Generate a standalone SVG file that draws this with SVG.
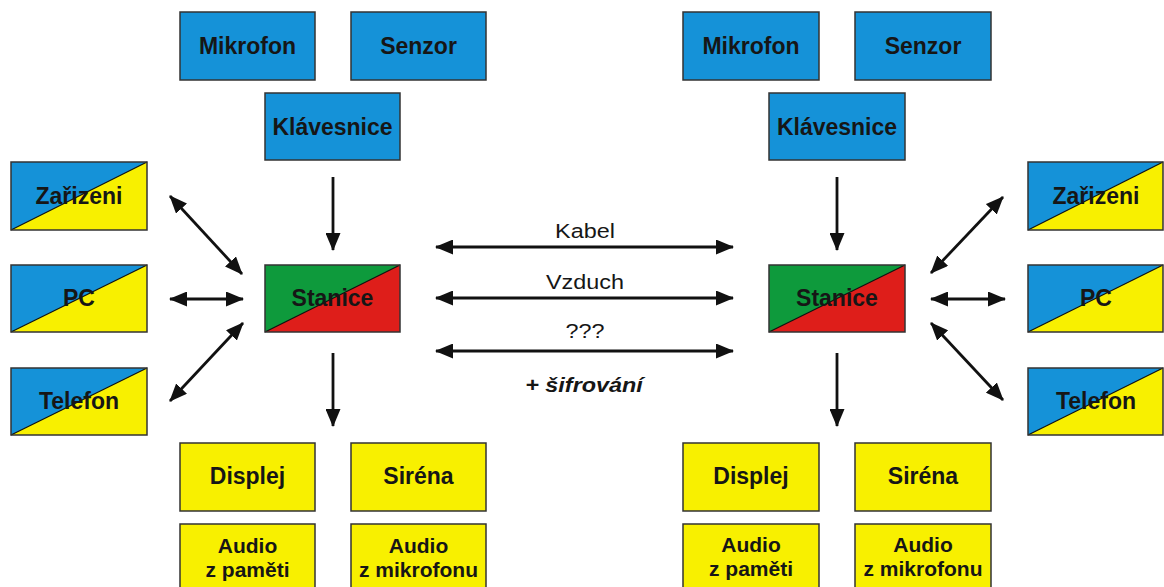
<svg xmlns="http://www.w3.org/2000/svg" width="1164" height="587" viewBox="0 0 1164 587">
<style>
.box{stroke:#333;stroke-width:1.5}
.blue{fill:#1592d8}
.yellow{fill:#f8f000}
.green{fill:#0e9a3c}
.red{fill:#de1e1a}
.diag{stroke:#111;stroke-width:1.2;fill:none}
.lbl{font-family:"Liberation Sans",Arial,sans-serif;font-weight:bold;font-size:23px;fill:#161616;text-anchor:middle}
.sm{font-size:21px}
.reg{font-family:"Liberation Sans",Arial,sans-serif;font-size:19.5px;fill:#161616;text-anchor:middle}
.bi{font-family:"Liberation Sans",Arial,sans-serif;font-size:19.5px;font-weight:bold;font-style:italic;fill:#161616;text-anchor:middle}
.arr{stroke:#111;stroke-width:2.8;fill:none}
.one{marker-end:url(#ah)}
.two{marker-start:url(#ah);marker-end:url(#ah)}
</style>
<defs>
<marker id="ah" markerUnits="userSpaceOnUse" markerWidth="18" markerHeight="15" refX="17" refY="7.5" orient="auto-start-reverse" viewBox="0 0 18 15">
<path d="M0,0 L18,7.5 L0,15 z" fill="#111"/>
</marker>
</defs>

<g id="connectors">
<line class="arr one" x1="333" y1="177" x2="333" y2="250"/>
<line class="arr one" x1="333" y1="353" x2="333" y2="426"/>
<line class="arr two" x1="170" y1="196" x2="242" y2="274"/>
<line class="arr two" x1="170" y1="299" x2="243" y2="299"/>
<line class="arr two" x1="170" y1="401" x2="243" y2="323"/>
<line class="arr two" x1="436" y1="247" x2="733" y2="247"/>
<line class="arr two" x1="436" y1="298" x2="733" y2="298"/>
<line class="arr two" x1="436" y1="351" x2="733" y2="351"/>
<line class="arr one" x1="837" y1="177" x2="837" y2="250"/>
<line class="arr one" x1="837" y1="353" x2="837" y2="426"/>
<line class="arr two" x1="1003" y1="197" x2="931" y2="273"/>
<line class="arr two" x1="931" y1="299" x2="1005" y2="299"/>
<line class="arr two" x1="931" y1="323" x2="1003" y2="400"/>
</g>

<g id="link-labels">
<text class="reg" transform="translate(585,238) scale(1.2,1)">Kabel</text>
<text class="reg" transform="translate(585,289) scale(1.2,1)">Vzduch</text>
<text class="reg" transform="translate(585,338) scale(1.2,1)">???</text>
<text class="bi" transform="translate(584,392) scale(1.2,1)">+ šifrování</text>
</g>

<!-- Left station -->
<g id="l-mikrofon"><rect class="box blue" x="180" y="12" width="135" height="68"/><text class="lbl" x="247.5" y="54">Mikrofon</text></g>
<g id="l-senzor"><rect class="box blue" x="351" y="12" width="135" height="68"/><text class="lbl" x="418.5" y="54">Senzor</text></g>
<g id="l-klavesnice"><rect class="box blue" x="265" y="93" width="135" height="67"/><text class="lbl" x="332.5" y="135">Klávesnice</text></g>
<g id="l-stanice"><rect class="green" x="265" y="265" width="135" height="67"/><path class="red" d="M265,332 L400,265 L400,332 z"/><line class="diag" x1="265" y1="332" x2="400" y2="265"/><rect class="box" fill="none" x="265" y="265" width="135" height="67"/><text class="lbl" x="332.5" y="306">Stanice</text></g>
<g id="l-zarizeni"><rect class="blue" x="11" y="162" width="136" height="68"/><path class="yellow" d="M11,230 L147,162 L147,230 z"/><line class="diag" x1="11" y1="230" x2="147" y2="162"/><rect class="box" fill="none" x="11" y="162" width="136" height="68"/><text class="lbl" x="79" y="204">Zařizeni</text></g>
<g id="l-pc"><rect class="blue" x="11" y="265" width="136" height="67"/><path class="yellow" d="M11,332 L147,265 L147,332 z"/><line class="diag" x1="11" y1="332" x2="147" y2="265"/><rect class="box" fill="none" x="11" y="265" width="136" height="67"/><text class="lbl" x="79" y="306">PC</text></g>
<g id="l-telefon"><rect class="blue" x="11" y="368" width="136" height="67"/><path class="yellow" d="M11,435 L147,368 L147,435 z"/><line class="diag" x1="11" y1="435" x2="147" y2="368"/><rect class="box" fill="none" x="11" y="368" width="136" height="67"/><text class="lbl" x="79" y="409">Telefon</text></g>
<g id="l-displej"><rect class="box yellow" x="180" y="443" width="135" height="68"/><text class="lbl" x="247.5" y="484">Displej</text></g>
<g id="l-sirena"><rect class="box yellow" x="351" y="443" width="135" height="68"/><text class="lbl" x="418.5" y="484">Siréna</text></g>
<g id="l-audio-pameti"><rect class="box yellow" x="180" y="524" width="135" height="70"/><text class="lbl sm" x="247.5" y="553">Audio</text><text class="lbl sm" x="247.5" y="577">z paměti</text></g>
<g id="l-audio-mikrofonu"><rect class="box yellow" x="351" y="524" width="135" height="70"/><text class="lbl sm" x="418.5" y="553">Audio</text><text class="lbl sm" x="418.5" y="577">z mikrofonu</text></g>

<!-- Right station -->
<g id="r-mikrofon"><rect class="box blue" x="683" y="12" width="136" height="68"/><text class="lbl" x="751" y="54">Mikrofon</text></g>
<g id="r-senzor"><rect class="box blue" x="855" y="12" width="136" height="68"/><text class="lbl" x="923" y="54">Senzor</text></g>
<g id="r-klavesnice"><rect class="box blue" x="769" y="93" width="136" height="67"/><text class="lbl" x="837" y="135">Klávesnice</text></g>
<g id="r-stanice"><rect class="green" x="769" y="265" width="136" height="67"/><path class="red" d="M769,332 L905,265 L905,332 z"/><line class="diag" x1="769" y1="332" x2="905" y2="265"/><rect class="box" fill="none" x="769" y="265" width="136" height="67"/><text class="lbl" x="837" y="306">Stanice</text></g>
<g id="r-zarizeni"><rect class="blue" x="1028" y="162" width="135" height="68"/><path class="yellow" d="M1028,230 L1163,162 L1163,230 z"/><line class="diag" x1="1028" y1="230" x2="1163" y2="162"/><rect class="box" fill="none" x="1028" y="162" width="135" height="68"/><text class="lbl" x="1096" y="204">Zařizeni</text></g>
<g id="r-pc"><rect class="blue" x="1028" y="265" width="135" height="67"/><path class="yellow" d="M1028,332 L1163,265 L1163,332 z"/><line class="diag" x1="1028" y1="332" x2="1163" y2="265"/><rect class="box" fill="none" x="1028" y="265" width="135" height="67"/><text class="lbl" x="1096" y="306">PC</text></g>
<g id="r-telefon"><rect class="blue" x="1028" y="368" width="135" height="67"/><path class="yellow" d="M1028,435 L1163,368 L1163,435 z"/><line class="diag" x1="1028" y1="435" x2="1163" y2="368"/><rect class="box" fill="none" x="1028" y="368" width="135" height="67"/><text class="lbl" x="1096" y="409">Telefon</text></g>
<g id="r-displej"><rect class="box yellow" x="683" y="443" width="136" height="68"/><text class="lbl" x="751" y="484">Displej</text></g>
<g id="r-sirena"><rect class="box yellow" x="855" y="443" width="136" height="68"/><text class="lbl" x="923" y="484">Siréna</text></g>
<g id="r-audio-pameti"><rect class="box yellow" x="683" y="524" width="136" height="70"/><text class="lbl sm" x="751" y="552">Audio</text><text class="lbl sm" x="751" y="576">z paměti</text></g>
<g id="r-audio-mikrofonu"><rect class="box yellow" x="855" y="524" width="136" height="70"/><text class="lbl sm" x="923" y="552">Audio</text><text class="lbl sm" x="923" y="576">z mikrofonu</text></g>
</svg>
